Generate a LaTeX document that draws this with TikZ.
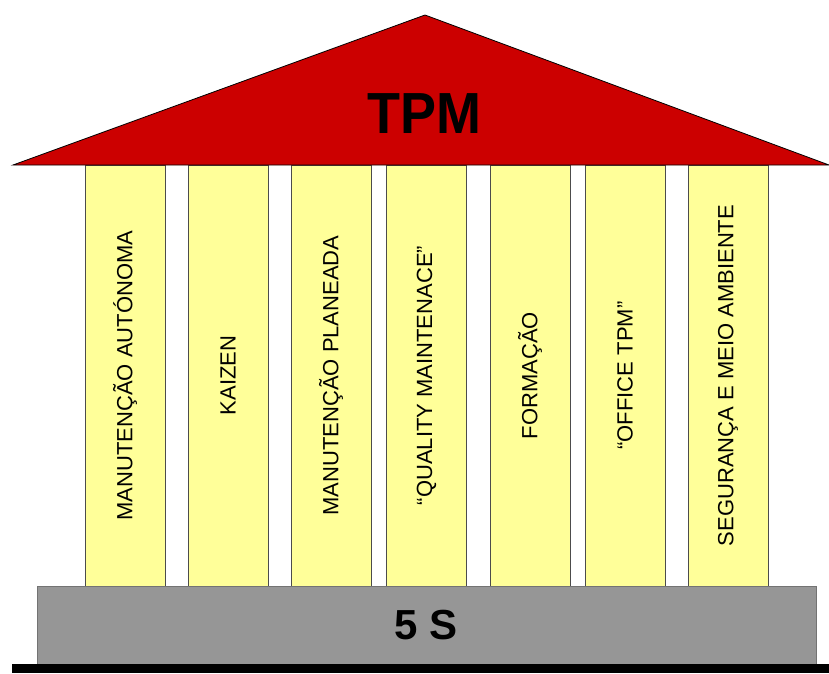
\documentclass[tikz,border=0pt]{standalone}
\usepackage{fontspec}
\setmainfont{Liberation Sans}
\definecolor{roofred}{HTML}{CC0000}
\definecolor{pillaryellow}{HTML}{FFFF99}
\definecolor{basegray}{HTML}{969696}
\begin{document}
\begin{tikzpicture}[x=1pt,y=-1pt,
  pillar/.style={draw=black!70, line width=0.8pt, fill=pillaryellow, rotate=90,
    minimum width=421pt, minimum height=80pt, inner sep=0pt,
    font=\fontsize{22}{26}\selectfont},
  roof/.style={draw=black, line width=0.8pt, fill=roofred},
  plinth/.style={draw=black!55, line width=0.8pt, fill=basegray, minimum width=779pt,
    minimum height=78pt, inner sep=0pt, font=\bfseries\fontsize{42}{48}\selectfont},
  title/.style={font=\bfseries\fontsize{58}{64}\selectfont, inner sep=0pt}]
\useasboundingbox (0,0) rectangle (829,673);
% pillars
\node[pillar] (p1) at (125,375.5) {MANUTENÇÃO AUTÓNOMA};
\node[pillar] (p2) at (228,375.5) {KAIZEN};
\node[pillar] (p3) at (331,375.5) {MANUTENÇÃO PLANEADA};
\node[pillar] (p4) at (426.5,375.5) {“QUALITY MAINTENACE”};
\node[pillar] (p5) at (530,375.5) {FORMAÇÃO};
\node[pillar] (p6) at (625,375.5) {“OFFICE TPM”};
\node[pillar] (p7) at (728,375.5) {SEGURANÇA E MEIO AMBIENTE};
% roof
\coordinate (rl) at (13,165);
\coordinate (ra) at (425,15);
\coordinate (rr) at (829,165);
\draw[roof] (rl) -- (ra) -- (rr) -- cycle;
\node[title, xscale=0.93] (tpm) at (424,114) {TPM};
% plinth and ground line
\node[plinth] (base) at (426.5,625) {5 S};
\coordinate (gl) at (12,668.5);
\coordinate (gr) at (829,668.5);
\draw[line width=9pt] (gl) -- (gr);
\end{tikzpicture}
\end{document}
